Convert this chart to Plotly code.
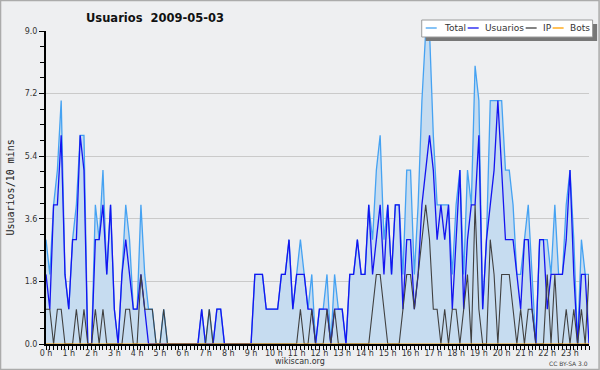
import plotly.graph_objects as go

hours = [f"{h} h" for h in range(24)]
slots = list(range(144))  # 10-minute slots

total = [3,2,4,5,7,2,1,3,4,6,
         6,0,0,4,3,5,2,4,1,0,
         2,4,3,1,1,4,2,1,1,0,
         0,1,0,0,0,0,0,0,0,0,
         0,1,0,1,0,1,1,0,0,0,
         0,0,0,0,0,2,2,2,1,1,
         1,1,2,2,3,1,2,3,2,1,
         2,0,1,1,2,0,2,1,1,0,
         2,2,3,2,2,4,3,5,6,3,
         4,2,4,4,2,5,5,2,4,7,
         9,9,6,4,4,4,4,2,4,5,
         2,5,4,8,7,1,3,7,7,7,
         7,5,5,4,2,2,3,4,2,0,
         3,3,3,2,4,2,2,4,5,3,
         0,3,2,2]
usuarios = [2,1,4,4,6,2,1,3,3,6,
            5,0,0,3,3,4,2,4,1,0,
            2,3,2,1,1,2,1,0,0,0,
            0,0,0,0,0,0,0,0,0,0,
            0,1,0,0,0,1,1,0,0,0,
            0,0,0,0,0,2,2,2,1,1,
            1,1,2,2,3,1,2,2,2,1,
            1,0,1,1,1,0,1,1,1,0,
            2,2,3,2,2,4,2,3,4,2,
            4,2,4,4,1,3,3,1,2,4,
            5,6,5,3,4,3,4,1,3,5,
            1,3,4,4,6,1,3,4,5,7,
            5,3,3,3,2,1,3,3,1,0,
            3,3,1,2,2,2,2,3,5,2,
            0,2,2,0]
ip = [1,1,0,1,1,0,0,0,1,0,
      1,0,0,1,0,1,0,0,0,0,
      0,1,1,0,0,2,1,1,1,0,
      0,1,0,0,0,0,0,0,0,0,
      0,0,0,1,0,0,0,0,0,0,
      0,0,0,0,0,0,0,0,0,0,
      0,0,0,0,0,0,0,1,0,0,
      1,0,0,0,1,0,1,0,0,0,
      0,0,0,0,0,0,1,2,2,1,
      0,0,0,0,1,2,2,1,2,3,
      4,3,1,1,0,1,0,1,1,0,
      1,2,0,4,1,0,0,3,2,0,
      2,2,2,1,0,1,0,1,1,0,
      0,0,2,0,2,0,0,1,0,1,
      0,1,0,2]
bots = [0,0,0,0,0,0,0,0,0,0,
        0,0,0,0,0,0,0,0,0,0,
        0,0,0,0,0,0,0,0,0,0,
        0,0,0,0,0,0,0,0,0,0,
        0,0,0,0,0,0,0,0,0,0,
        0,0,0,0,0,0,0,0,0,0,
        0,0,0,0,0,0,0,0,0,0,
        0,0,0,0,0,0,0,0,0,0,
        0,0,0,0,0,0,0,0,0,0,
        0,0,0,0,0,0,0,0,0,0,
        0,0,0,0,0,0,0,0,0,0,
        0,0,0,0,0,0,0,0,0,0,
        0,0,0,0,0,0,0,0,0,0,
        0,0,0,0,0,0,0,0,0,0,
        0,0,0,0]

series_names = ["Total", "Usuarios", "IP", "Bots"]
C_TOTAL = "#45a2f2"
C_FILL = "#c6dcf0"
C_USU = "#1414f0"
C_IP = "#404040"
C_BOTS = "#ffa000"
BG = "#eeeff1"

# plot-area geometry (pixels)
L, R, T, B = 46, 589.4, 31, 344
W, H = 600, 370


def px(x):
    return (x - L) / (R - L)


def py(y):
    return (B - y) / (B - T)


fig = go.Figure()
fig.add_trace(go.Scatter(x=slots, y=total, mode="lines", fill="tozeroy",
                         fillcolor=C_FILL, line=dict(color=C_TOTAL, width=1.3),
                         name="Total", showlegend=False))
fig.add_trace(go.Scatter(x=slots, y=usuarios, mode="lines",
                         line=dict(color=C_USU, width=1.3),
                         name="Usuarios", showlegend=False))
fig.add_trace(go.Scatter(x=slots, y=ip, mode="lines",
                         line=dict(color=C_IP, width=1.1),
                         name="IP", showlegend=False))
fig.add_trace(go.Scatter(x=slots, y=bots, mode="lines",
                         line=dict(color=C_BOTS, width=1.1),
                         name="Bots", showlegend=False))

shapes = []
annotations = []

# outer frame
shapes.append(dict(type="rect", xref="paper", yref="paper",
                   x0=px(0.5), x1=px(599.5), y0=py(369.5), y1=py(0.5),
                   line=dict(color="#ababab", width=1.5), layer="above"))

# legend shadow + box
shapes.append(dict(type="rect", xref="paper", yref="paper",
                   x0=px(426), x1=px(597.5), y0=py(41), y1=py(24),
                   fillcolor="#777777", line=dict(width=0), layer="above"))
shapes.append(dict(type="rect", xref="paper", yref="paper",
                   x0=px(422), x1=px(593), y0=py(37), y1=py(20),
                   fillcolor="white", line=dict(color="#9a9a9a", width=1), layer="above"))

legend_items = [(426, 442, C_TOTAL), (468, 483, C_USU), (526, 541, C_IP), (553, 568, C_BOTS)]
for name, (lx, tx, col) in zip(series_names, legend_items):
    shapes.append(dict(type="line", xref="paper", yref="paper",
                       x0=px(lx), x1=px(lx + 11), y0=py(28), y1=py(28),
                       line=dict(color=col, width=1.3), layer="above"))
    annotations.append(dict(text=name, xref="paper", yref="paper", x=px(tx), y=py(28),
                            xanchor="left", yanchor="middle", showarrow=False,
                            font=dict(family="DejaVu Sans", size=9, color="#333333")))

# title
annotations.append(dict(text="<b>Usuarios  2009-05-03</b>", xref="paper", yref="paper",
                        x=px(84), y=py(18), xanchor="left", yanchor="middle",
                        showarrow=False,
                        font=dict(family="DejaVu Sans", size=11.5, color="#111111")))
# y axis title
annotations.append(dict(text="Usuarios/10 mins", xref="paper", yref="paper",
                        x=px(10), y=py(187.5), xanchor="center", yanchor="middle",
                        textangle=-90, showarrow=False,
                        font=dict(family="DejaVu Sans Mono", size=10, color="#222222")))
# footer
annotations.append(dict(text="wikiscan.org", xref="paper", yref="paper",
                        x=px(300.5), y=py(361.5), xanchor="center", yanchor="middle",
                        showarrow=False,
                        font=dict(family="DejaVu Sans", size=8, color="#333333")))
annotations.append(dict(text="CC BY-SA 3.0", xref="paper", yref="paper",
                        x=px(590), y=py(363), xanchor="right", yanchor="middle",
                        showarrow=False,
                        font=dict(family="DejaVu Sans", size=6, color="#444444")))

fig.update_layout(
    width=W, height=H,
    margin=dict(l=L, r=W - R, t=T, b=H - B, pad=0, autoexpand=False),
    paper_bgcolor=BG, plot_bgcolor=BG,
    showlegend=False,
    shapes=shapes, annotations=annotations,
    xaxis=dict(range=[0, 143], tickmode="array",
               tickvals=[h * 6 for h in range(24)], ticktext=hours,
               ticks="outside", ticklen=4, tickwidth=1, tickcolor="black",
               ticklabelstandoff=-4,
               showline=True, linecolor="black", linewidth=2,
               showgrid=False, zeroline=False, automargin=False,
               tickfont=dict(family="DejaVu Sans", size=8, color="#333333"),
               minor=dict(dtick=1, tick0=0, ticks="outside", ticklen=4,
                          tickwidth=1, tickcolor="black", showgrid=False)),
    yaxis=dict(range=[0, 9], tickmode="linear", tick0=0, dtick=1.8,
               tickformat=".1f",
               ticks="outside", ticklen=5, tickwidth=1, tickcolor="black",
               showline=True, linecolor="black", linewidth=2,
               showgrid=True, gridcolor="#cacaca", gridwidth=1,
               zeroline=False, automargin=False,
               tickfont=dict(family="DejaVu Sans", size=8, color="#333333"),
               minor=dict(dtick=0.45, tick0=0, ticks="outside", ticklen=4,
                          tickwidth=1, tickcolor="black", showgrid=False)),
)

fig.write_html("out.html", config={"displayModeBar": False},
               post_script="document.body.style.margin='0';document.body.style.padding='0';"
                           "document.documentElement.style.overflow='hidden';")
